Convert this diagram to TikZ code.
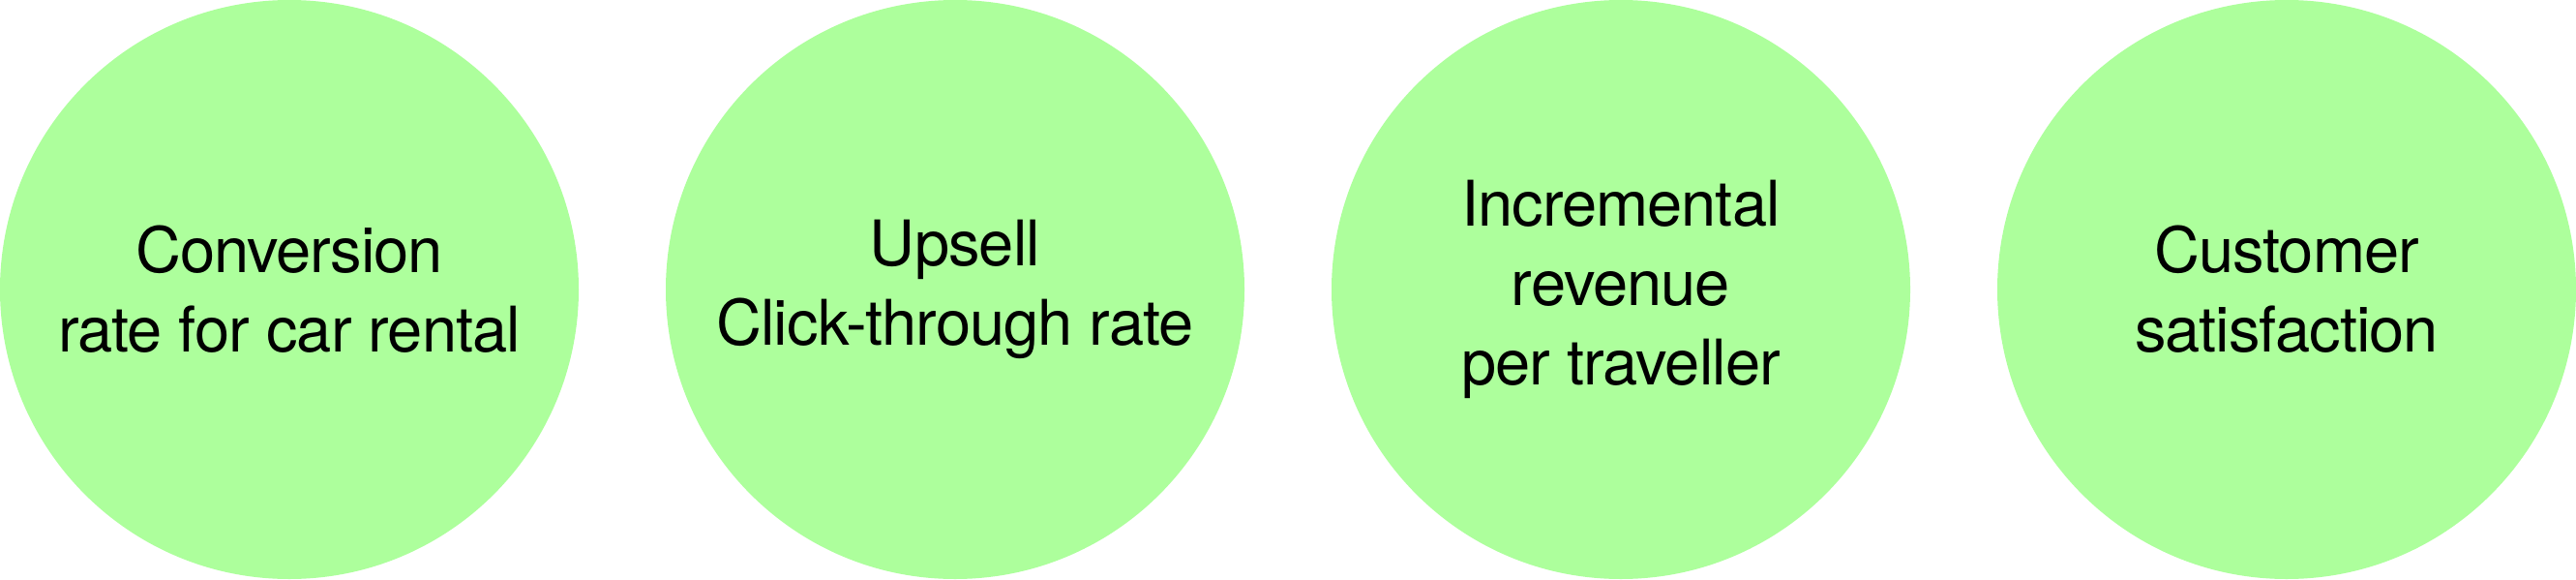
\documentclass[tikz,border=0pt]{standalone}
\usepackage{fontspec}
\setmainfont[LetterSpace=-1.5]{TeX Gyre Heros}
\usepackage{tikz}
\definecolor{kpigreen}{HTML}{ADFF9C}
\newcommand\dia{598pt}
\newcommand\pitch{688pt}

\begin{document}
\begin{tikzpicture}[
      kpi/.style = {
        circle,
        fill=kpigreen,
        inner sep=0pt,
        minimum size = \dia,
        align=center,
        font=\fontsize{65}{82}\selectfont,
      },
    ]
      \node[kpi] (conv) at (0, 0) {Conversion\\rate for car rental};
      \node[kpi] (upsell) at (\pitch, 0) {Upsell\\Click-through rate};
      \node[kpi] (revenue) at (2*\pitch, 0) {Incremental\\revenue\\per traveller};
      \node[kpi] (satisf) at (3*\pitch, 0) {Customer\\satisfaction};

    \end{tikzpicture}
\end{document}
